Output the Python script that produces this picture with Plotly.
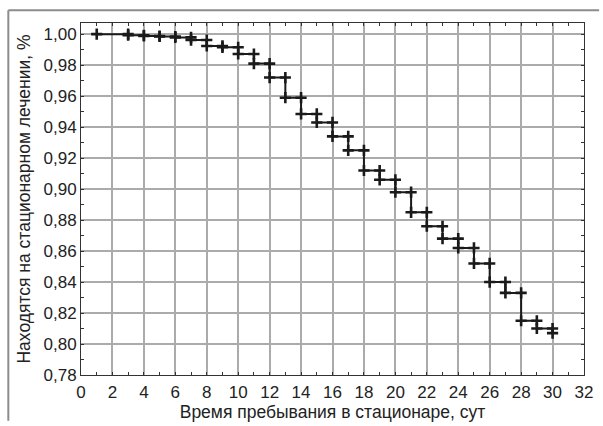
import plotly.graph_objects as go

days = [1, 3, 4, 5, 6, 7, 8, 9, 10, 11, 12, 13, 14, 15, 16, 17, 18, 19, 20,
        21, 22, 23, 24, 25, 26, 27, 28, 29, 30]
survival = [1.000, 0.9993, 0.9988, 0.9985, 0.9979, 0.9962, 0.9924, 0.9915, 0.9872,
            0.981, 0.972, 0.959, 0.9485, 0.943, 0.934, 0.925, 0.912, 0.906, 0.898,
            0.885, 0.876, 0.868, 0.862, 0.852, 0.840, 0.833, 0.815, 0.810, 0.807]

x_ticks = list(range(0, 33, 2))
x_ticktext = [str(v) for v in x_ticks]
y_ticks = [0.78, 0.80, 0.82, 0.84, 0.86, 0.88, 0.90, 0.92, 0.94, 0.96, 0.98, 1.00]
y_ticktext = ["0,78", "0,80", "0,82", "0,84", "0,86", "0,88", "0,90", "0,92",
              "0,94", "0,96", "0,98", "1,00"]

x_title = "Время пребывания в стационаре, сут"
y_title = "Находятся на стационарном лечении, %"

# censor/event marks at top and bottom of each step
mark_x = [days[0]]
mark_y = [survival[0]]
for i in range(1, len(days)):
    mark_x += [days[i], days[i]]
    mark_y += [survival[i - 1], survival[i]]

fig = go.Figure()
fig.add_trace(go.Scatter(
    x=days, y=survival, mode="lines", line=dict(shape="hv", color="#1a1a1a", width=2),
    hoverinfo="skip", showlegend=False))
fig.add_trace(go.Scatter(
    x=mark_x, y=mark_y, mode="markers",
    marker=dict(symbol="cross-thin", size=8, line=dict(color="#1a1a1a", width=2.6)),
    showlegend=False))

font_family = "Liberation Sans, Arial, sans-serif"
axis_common = dict(
    showgrid=True, gridcolor="#ababab", gridwidth=1.5,
    showline=True, linecolor="#333333", linewidth=1, mirror="allticks",
    ticks="inside", ticklen=3, tickcolor="#333333",
    zeroline=False,
    tickfont=dict(family=font_family, size=17, color="#222222"),
)
fig.update_xaxes(
    range=[0, 32], tickmode="array", tickvals=x_ticks, ticktext=x_ticktext,
    minor=dict(dtick=1, ticks="inside", ticklen=3, tickcolor="#333333", showgrid=False),
    ticklabelstandoff=2,
    title=dict(text=x_title, font=dict(family=font_family, size=17.5, color="#222222"),
               standoff=1),
    **axis_common)
fig.update_yaxes(
    range=[0.78, 1.0072], tickmode="array", tickvals=y_ticks, ticktext=y_ticktext,
    minor=dict(dtick=0.01, ticks="inside", ticklen=3, tickcolor="#333333", showgrid=False),
    title=dict(text=y_title, font=dict(family=font_family, size=17.5, color="#222222"),
               standoff=8),
    **axis_common)

fig.update_layout(
    width=603, height=426,
    margin=dict(l=81, r=10, t=23, b=45),
    paper_bgcolor="white", plot_bgcolor="white",
    showlegend=False,
    shapes=[
        dict(type="line", xref="paper", yref="paper", x0=-0.1445, x1=1.03,
             y0=1.0363, y1=1.0363, line=dict(color="#8c8c8c", width=2)),
        dict(type="line", xref="paper", yref="paper", x0=-0.1445, x1=-0.1445,
             y0=1.0363, y1=-0.13, line=dict(color="#8c8c8c", width=2)),
    ],
)

fig.write_html("out.html", config={"displayModeBar": False},
               post_script="document.body.style.margin='0';")
